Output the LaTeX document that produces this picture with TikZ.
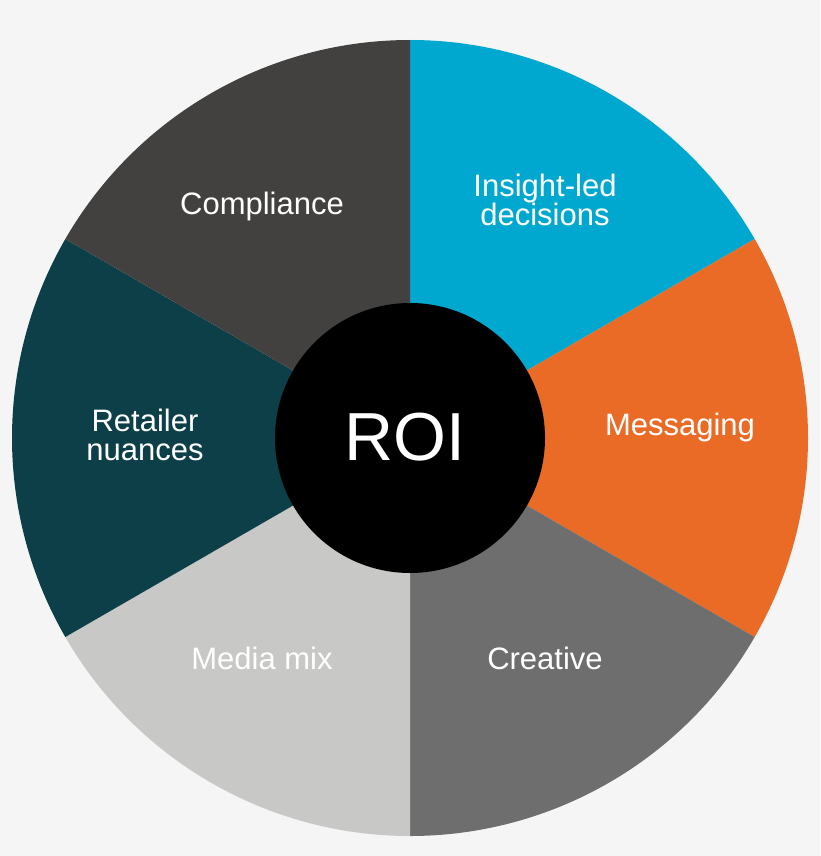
\documentclass[tikz,border=0pt]{standalone}
\usepackage{fontspec}
\setmainfont{Liberation Sans}
\begin{document}
\begin{tikzpicture}[x=1pt,y=-1pt,
  lbl/.style={text=white,font=\fontsize{31}{35}\selectfont,align=center},
  seg/.style={draw=none}]
\definecolor{bg}{HTML}{F5F5F5}
\definecolor{cA}{HTML}{424140}
\definecolor{cB}{HTML}{00A8D0}
\definecolor{cC}{HTML}{E96B26}
\definecolor{cD}{HTML}{6D6E6D}
\definecolor{cE}{HTML}{C8C8C7}
\definecolor{cF}{HTML}{0D3F48}
\fill[bg] (0,0) rectangle (820,856);
\useasboundingbox (0,0) rectangle (820,856);
\coordinate (c) at (410,438);
% angles in standard math orientation; y is flipped so use negative angles
\fill[cB] (c) -- ++(-90:398) arc[start angle=-90,end angle=-30,radius=398] -- cycle;
\fill[cC] (c) -- ++(-30:398) arc[start angle=-30,end angle=30,radius=398] -- cycle;
\fill[cD] (c) -- ++(30:398) arc[start angle=30,end angle=90,radius=398] -- cycle;
\fill[cE] (c) -- ++(90:398) arc[start angle=90,end angle=150,radius=398] -- cycle;
\fill[cF] (c) -- ++(150:398) arc[start angle=150,end angle=210,radius=398] -- cycle;
\fill[cA] (c) -- ++(210:398) arc[start angle=210,end angle=270,radius=398] -- cycle;
\node[circle,fill=black,minimum size=270pt,inner sep=0] (roi) at (c) {};
\node[text=white,font=\fontsize{68}{70}\selectfont] (roit) at (405,437) {ROI};
\node[lbl] (a) at (262,206) {Compliance};
\node[lbl] (b) at (545,200) {Insight-led\\[-6pt]decisions};
\node[lbl] (m) at (680,427) {Messaging};
\node[lbl] (d) at (545,658) {Creative};
\node[lbl] (e) at (262,658) {Media mix};
\node[lbl] (f) at (145,435) {Retailer\\[-6pt]nuances};
\end{tikzpicture}
\end{document}
